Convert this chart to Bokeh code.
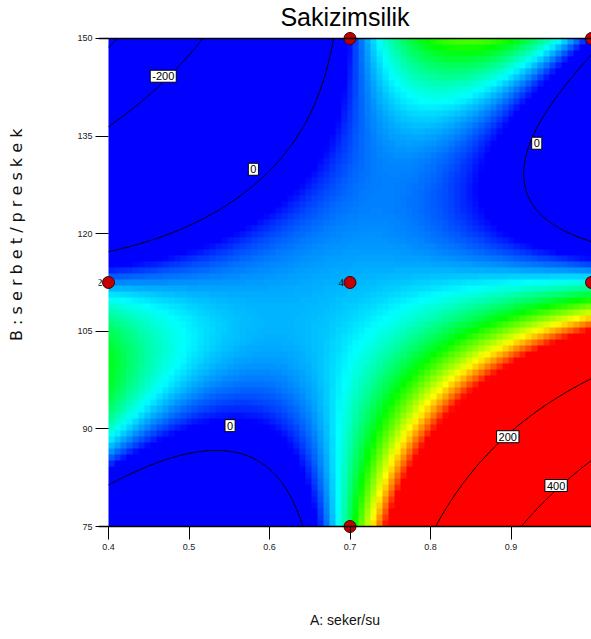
import numpy as np
from bokeh.plotting import figure
from bokeh.models import (LinearColorMapper, FixedTicker, Range1d, LabelSet, Title,
                          ColumnDataSource, Span)
from bokeh.core.properties import value
from bokeh.embed import file_html
from bokeh.resources import INLINE

# ---------------- data ----------------
title_text = "Sakizimsilik"
x_label = "A: seker/su"
y_label = "B : s e r b e t / p r e s  k e k"

# response (model prediction) at the 3x3 factor-level grid
A_levels = [0.4, 0.7, 1.0]
B_levels = [75.0, 112.5, 150.0]
resp_at_B75 = [-51.0, 55.5, 606.0]
resp_at_B112 = [27.9, 32.0, 42.0]
resp_at_B150 = [-425.0, 16.0, 15.0]

color_low = 15.0
color_high = 110.0
contour_levels = [-400, -200, 0, 200, 400]

label_A = [0.468, 0.580, 0.932, 0.551, 0.896, 0.956]
label_B = [144.2, 129.9, 133.9, 90.5, 88.8, 81.3]
label_text = ["-200", "0", "0", "0", "200", "400"]

design_A = [0.7, 1.0, 0.4, 0.7, 1.0, 0.7]
design_B = [150.0, 150.0, 112.5, 112.5, 112.5, 75.0]
design_count = ["", "", "2", "4", "", ""]

x_ticks = [0.4, 0.5, 0.6, 0.7, 0.8, 0.9]
y_ticks = [75, 90, 105, 120, 135, 150]

# ---------------- model surface ----------------
def lagrange(t, nodes):
    t0, t1, t2 = nodes
    return [(t - t1) * (t - t2) / ((t0 - t1) * (t0 - t2)),
            (t - t0) * (t - t2) / ((t1 - t0) * (t1 - t2)),
            (t - t0) * (t - t1) / ((t2 - t0) * (t2 - t1))]

def surface(A, B):
    F = [resp_at_B75, resp_at_B112, resp_at_B150]
    LA = lagrange(A, A_levels)
    LB = lagrange(B, B_levels)
    z = 0.0
    for j in range(3):
        for i in range(3):
            z = z + F[j][i] * LA[i] * LB[j]
    return z

# colour palette blue-cyan-green-yellow-red
stops = [(0, 0, 255), (0, 255, 255), (0, 255, 0), (255, 255, 0), (255, 0, 0)]
palette = []
for k in range(256):
    t = k / 255 * 4
    i = min(int(t), 3)
    f = t - i
    c = [int(round(stops[i][m] + (stops[i + 1][m] - stops[i][m]) * f)) for m in range(3)]
    palette.append("#%02x%02x%02x" % tuple(c))
mapper = LinearColorMapper(palette=palette, low=color_low, high=color_high)

A0, A1 = A_levels[0], A_levels[-1]
B0, B1 = B_levels[0], B_levels[-1]

# coarse cells for the colour map (about 81 x 81 like the original)
n = 81
ca = A0 + (np.arange(n) + 0.5) * (A1 - A0) / n
cb = B0 + (np.arange(n) + 0.5) * (B1 - B0) / n
CA, CB = np.meshgrid(ca, cb)
Zc = surface(CA, CB)
Zimg = np.repeat(np.repeat(Zc, 6, axis=0), 6, axis=1)

# fine grid for contour lines
fa = np.linspace(A0, A1, 301)
fb = np.linspace(B0, B1, 301)
FA, FB = np.meshgrid(fa, fb)
Zf = surface(FA, FB)

# ---------------- figure ----------------
padx = 10 / 805.0
pady = 8 / 6.52
p = figure(width=591, height=631, output_backend="svg", toolbar_location=None,
           x_range=Range1d(A0 - padx, A1), y_range=Range1d(B0 - pady, B1 + pady),
           min_border_left=98, min_border_right=0, min_border_top=29, min_border_bottom=97)
p.outline_line_color = None
p.grid.visible = False
p.background_fill_color = "white"
p.border_fill_color = "white"

p.title.text = title_text
p.title.align = "center"
p.title.text_font = "Liberation Sans"
p.title.text_font_size = "25px"
p.title.text_font_style = "normal"
p.title.text_color = "black"
p.title.standoff = 0

p.image(image=[Zimg], x=A0, y=B0, dw=A1 - A0, dh=B1 - B0, color_mapper=mapper)
p.contour(fa, fb, Zf, levels=contour_levels, line_color="black", line_width=1)

p.text(x=label_A, y=label_B, text=label_text, text_align="center", text_baseline="middle",
       text_font=value("Liberation Sans"), text_font_size="11px", text_color="black",
       background_fill_color="white", border_line_color="black", border_line_width=1,
       padding=2)

p.add_layout(Span(location=B1, dimension="width", line_color="black", line_width=1.5))
p.add_layout(Span(location=B0, dimension="width", line_color="black", line_width=1.5))

p.scatter(x=design_A, y=design_B, size=12, fill_color="#c00000", line_color="#400000",
          line_width=1)
src = ColumnDataSource(dict(a=design_A, b=design_B, t=design_count))
p.add_layout(LabelSet(x="a", y="b", text="t", source=src, x_offset=-6, text_align="right",
                      text_baseline="middle", text_font_size="11px",
                      text_font="Liberation Sans", text_color="black"))

# axes
ax = p.xaxis[0]
ax.ticker = FixedTicker(ticks=x_ticks)
ax.axis_line_color = None
ax.major_tick_in = 8
ax.major_tick_out = 5
ax.minor_tick_line_color = None
ax.major_tick_line_color = "black"
ax.major_label_standoff = 4
ax.major_label_text_font = "Liberation Sans"
ax.major_label_text_font_size = "9px"
ax.major_label_text_color = "#222222"
ax.axis_label = x_label
ax.axis_label_text_font = "Liberation Sans"
ax.axis_label_text_font_size = "14px"
ax.axis_label_text_font_style = "normal"
ax.axis_label_text_color = "#111111"
ax.axis_label_standoff = 59

ay = p.yaxis[0]
ay.ticker = FixedTicker(ticks=y_ticks)
ay.axis_line_color = None
ay.major_tick_in = 10
ay.major_tick_out = 3
ay.minor_tick_line_color = None
ay.major_tick_line_color = "black"
ay.major_label_standoff = 3
ay.major_label_text_font = "Liberation Sans"
ay.major_label_text_font_size = "9px"
ay.major_label_text_color = "#222222"
# blank axis label used only as a spacer so the title below sits at the far left
ay.axis_label = " "
ay.axis_label_text_font_size = "10px"
ay.axis_label_standoff = 32

p.add_layout(Title(text=y_label, align="right", offset=93, standoff=6,
                   text_font="DejaVu Sans", text_font_size="16px",
                   text_font_style="normal", text_color="#111111"), "left")

open("out.html", "w").write(file_html(p, INLINE))
